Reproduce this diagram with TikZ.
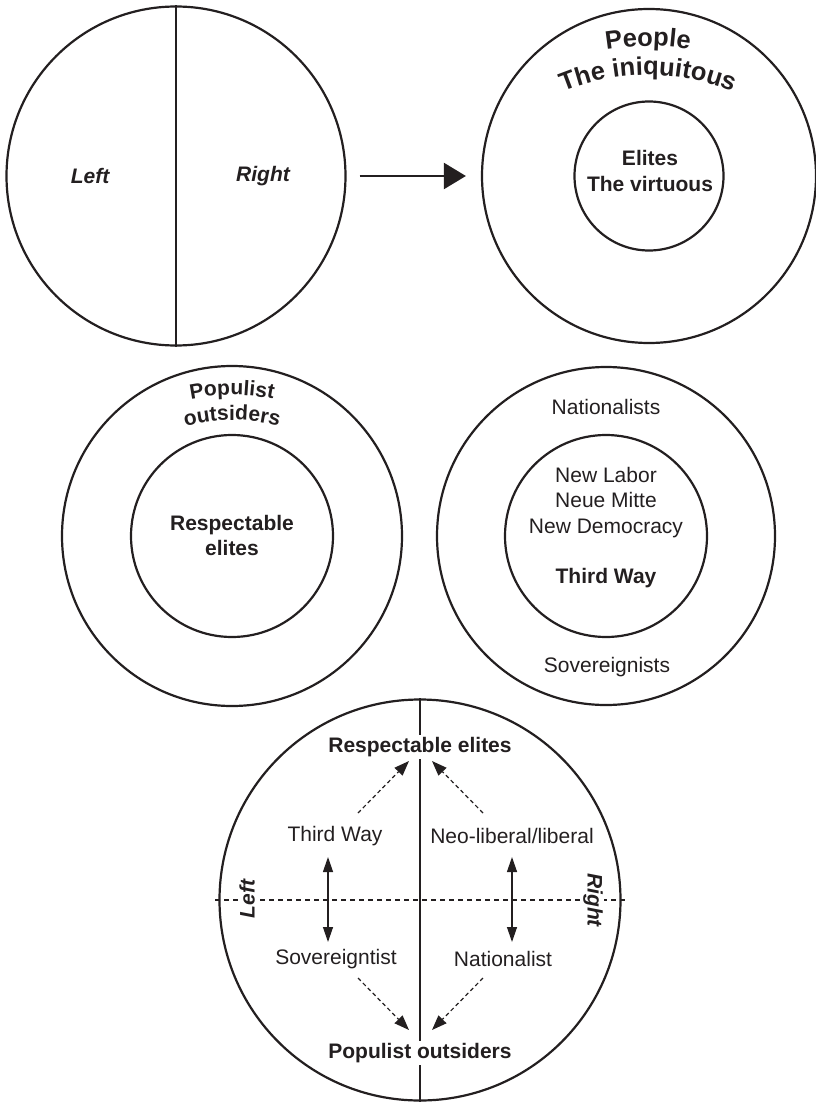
\documentclass[tikz,border=0pt]{standalone}
\usepackage{fontspec}
\setmainfont{Liberation Sans}
\usepackage{xcolor}
\usepackage{tikz}
\usetikzlibrary{arrows.meta, calc, decorations.text}
\definecolor{inkGray}{RGB}{35, 31, 32}

\begin{document}
\begin{tikzpicture}[
        x=1pt, y=-1pt,
        font=\fontsize{21}{25.5}\selectfont, text=inkGray,
        ring/.style={circle, draw=inkGray, line width=2.2pt, inner sep=0pt},
        lbl/.style={align=center, inner sep=1pt},
        bld/.style={lbl, font=\fontsize{21}{25.5}\selectfont\bfseries},
        side/.style={lbl, font=\fontsize{21}{25.5}\selectfont\bfseries\itshape},
        divider/.style={line width=1.3pt, draw=inkGray},
        bigarr/.style={-{Triangle[length=22pt, width=26pt]}, line width=2.2pt, draw=inkGray},
        dblarr/.style={{Triangle[length=15pt, width=10pt]}-{Triangle[length=15pt, width=10pt]}, line width=1.3pt, draw=inkGray},
        dasharr/.style={-{Triangle[length=15pt, width=11pt]}, line width=1.2pt, dash pattern=on 4pt off 3pt, draw=inkGray},
        arctxt/.style={decorate, decoration={text along path, text align=center, text={|\fontsize{#1}{#1}\selectfont\bfseries\color{inkGray}|}}}
    ]
    \useasboundingbox (0,0) rectangle (815,1102);

    % left / right
    \node[ring, minimum size=339pt] (lr) at (176,176) {};
    \draw[divider] (lr.north) -- (lr.south);
    \node[side] (lft) at (90,176) {Left};
    \node[side] (rgt) at (263,176) {Right};

    % people vs elites
    \node[ring, minimum size=334pt] (pr) at (649,176) {};
    \node[ring, minimum size=149pt] (er) at (649,176) {};
    \node[bld] (el) at (650,171) {Elites\\The virtuous};
    \path[decorate, decoration={text along path, text align=center,
            text={|\fontsize{25.5}{30}\selectfont\bfseries\color{inkGray}|People}}]
        ($(648,296)+(-120:250)$) arc[start angle=-120, end angle=-60, radius=250];
    \path[decorate, decoration={text along path, text align=center,
            text={|\fontsize{25.5}{30}\selectfont\bfseries\color{inkGray}|The iniquitous}}]
        ($(648,296)+(-135:221)$) arc[start angle=-135, end angle=-45, radius=221];

    \draw[bigarr, shorten <=13pt, shorten >=15pt] (lr.east) -- (pr.west);

    % populist outsiders
    \node[ring, minimum size=340pt] (po) at (232,536) {};
    \node[ring, minimum size=202pt] (rs) at (232,536) {};
    \node[bld] (rsl) at (232,535.5) {Respectable\\elites};
    \path[decorate, decoration={text along path, text align=center,
            text={|\fontsize{21}{25}\selectfont\bfseries\color{inkGray}|Populist}}]
        ($(232,600)+(-125:205)$) arc[start angle=-125, end angle=-55, radius=205];
    \path[decorate, decoration={text along path, text align=center,
            text={|\fontsize{21}{25}\selectfont\bfseries\color{inkGray}|outsiders}}]
        ($(232,600)+(-130:180)$) arc[start angle=-130, end angle=-50, radius=180];

    % third way
    \node[ring, minimum size=338pt] (tr) at (606,536) {};
    \node[ring, minimum size=202pt] (tw) at (606,536) {};
    \node[lbl] (nat) at (606,407) {Nationalists};
    \node[lbl] (nws) at (606,502.5) {New Labor\\Neue Mitte\\New Democracy};
    \node[bld] (twl) at (606,578) {Third Way};
    \node[lbl] (sov) at (607,667) {Sovereignists};

    % two axes
    \node[ring, minimum size=401pt] (qd) at (420,900) {};
    \draw[divider] (qd.north) -- (qd.south);
    \draw[divider, line width=1.2pt, dash pattern=on 5pt off 4pt]
        ($(qd.west)+(-3,0)$) -- ($(qd.east)+(3,0)$);
    \node[bld, fill=white, inner sep=2pt] (top) at (420,747) {Respectable elites};
    \node[bld, fill=white, inner sep=2pt] (bot) at (420,1053) {Populist outsiders};
    \node[side, fill=white, rotate=90] (ql) at (247,899) {Left};
    \node[side, fill=white, rotate=-90] (qr) at (593,900) {Right};
    \node[lbl] (tw3) at (335,836) {Third Way};
    \node[lbl] (nl) at (512,836) {Neo-liberal/liberal};
    \node[lbl] (sv) at (336,959) {Sovereigntist};
    \node[lbl] (na) at (503,959) {Nationalist};

    \draw[dblarr] ($(tw3)+(-7,21)$) -- ($(sv)+(-8,-17)$);
    \draw[dblarr] ($(nl)+(0,21)$) -- ($(na)+(9,-17)$);
    \draw[dasharr] ($(tw3)+(23,-23)$) -- ($(top)+(-11,14)$);
    \draw[dasharr] ($(nl)+(-29,-23)$) -- ($(top)+(12,14)$);
    \draw[dasharr] ($(sv)+(22,19)$) -- ($(bot)+(-11,-23)$);
    \draw[dasharr] ($(na)+(-20,19)$) -- ($(bot)+(12,-23)$);
\end{tikzpicture}
\end{document}
